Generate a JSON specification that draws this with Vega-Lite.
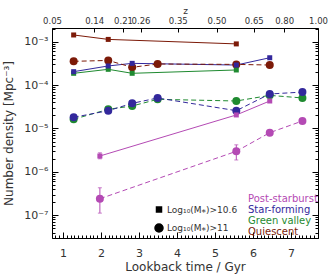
{
  "$schema": "https://vega.github.io/schema/vega-lite/v6.json",
  "width": 266,
  "height": 210,
  "autosize": {"type": "none"},
  "padding": {"left": 52, "top": 28, "right": 13, "bottom": 37},
  "data": {
    "values": [
      {"t": 1.28, "n": 1.43e-3, "cls": "Quiescent", "mass": "Log₁₀(M⁎)>10.6"},
      {"t": 2.19, "n": 1.13e-3, "cls": "Quiescent", "mass": "Log₁₀(M⁎)>10.6"},
      {"t": 5.56, "n": 8.9e-4, "cls": "Quiescent", "mass": "Log₁₀(M⁎)>10.6"},
      {"t": 1.28, "n": 3.53e-4, "cls": "Quiescent", "mass": "Log₁₀(M⁎)>11"},
      {"t": 2.19, "n": 3.7e-4, "cls": "Quiescent", "mass": "Log₁₀(M⁎)>11"},
      {"t": 2.82, "n": 2.57e-4, "cls": "Quiescent", "mass": "Log₁₀(M⁎)>11"},
      {"t": 3.49, "n": 3.06e-4, "cls": "Quiescent", "mass": "Log₁₀(M⁎)>11"},
      {"t": 5.56, "n": 3.0e-4, "cls": "Quiescent", "mass": "Log₁₀(M⁎)>11"},
      {"t": 6.44, "n": 2.9e-4, "cls": "Quiescent", "mass": "Log₁₀(M⁎)>11"},
      {"t": 1.28, "n": 1.87e-4, "cls": "Green valley", "mass": "Log₁₀(M⁎)>10.6"},
      {"t": 2.19, "n": 2.31e-4, "cls": "Green valley", "mass": "Log₁₀(M⁎)>10.6"},
      {"t": 2.82, "n": 1.87e-4, "cls": "Green valley", "mass": "Log₁₀(M⁎)>10.6"},
      {"t": 5.56, "n": 2.23e-4, "cls": "Green valley", "mass": "Log₁₀(M⁎)>10.6"},
      {"t": 1.28, "n": 1.63e-5, "cls": "Green valley", "mass": "Log₁₀(M⁎)>11"},
      {"t": 2.19, "n": 2.77e-5, "cls": "Green valley", "mass": "Log₁₀(M⁎)>11"},
      {"t": 2.82, "n": 3.3e-5, "cls": "Green valley", "mass": "Log₁₀(M⁎)>11"},
      {"t": 3.49, "n": 4.7e-5, "cls": "Green valley", "mass": "Log₁₀(M⁎)>11"},
      {"t": 5.56, "n": 4.3e-5, "cls": "Green valley", "mass": "Log₁₀(M⁎)>11"},
      {"t": 6.44, "n": 5.8e-5, "cls": "Green valley", "mass": "Log₁₀(M⁎)>11"},
      {"t": 7.30, "n": 5.05e-5, "cls": "Green valley", "mass": "Log₁₀(M⁎)>11"},
      {"t": 1.28, "n": 2.04e-4, "cls": "Star-forming", "mass": "Log₁₀(M⁎)>10.6"},
      {"t": 2.19, "n": 2.76e-4, "cls": "Star-forming", "mass": "Log₁₀(M⁎)>10.6"},
      {"t": 2.82, "n": 3.17e-4, "cls": "Star-forming", "mass": "Log₁₀(M⁎)>10.6"},
      {"t": 5.56, "n": 2.9e-4, "cls": "Star-forming", "mass": "Log₁₀(M⁎)>10.6"},
      {"t": 6.44, "n": 4.27e-4, "cls": "Star-forming", "mass": "Log₁₀(M⁎)>10.6"},
      {"t": 1.28, "n": 1.81e-5, "cls": "Star-forming", "mass": "Log₁₀(M⁎)>11"},
      {"t": 2.19, "n": 2.57e-5, "cls": "Star-forming", "mass": "Log₁₀(M⁎)>11"},
      {"t": 2.82, "n": 3.8e-5, "cls": "Star-forming", "mass": "Log₁₀(M⁎)>11"},
      {"t": 3.49, "n": 5.05e-5, "cls": "Star-forming", "mass": "Log₁₀(M⁎)>11"},
      {"t": 5.56, "n": 2.57e-5, "cls": "Star-forming", "mass": "Log₁₀(M⁎)>11"},
      {"t": 6.44, "n": 6.24e-5, "cls": "Star-forming", "mass": "Log₁₀(M⁎)>11"},
      {"t": 7.30, "n": 6.9e-5, "cls": "Star-forming", "mass": "Log₁₀(M⁎)>11"},
      {"t": 1.97, "n": 2.32e-6, "lo": 2.0e-6, "hi": 2.75e-6, "cls": "Post-starburst", "mass": "Log₁₀(M⁎)>10.6"},
      {"t": 5.56, "n": 2.05e-5, "cls": "Post-starburst", "mass": "Log₁₀(M⁎)>10.6"},
      {"t": 6.44, "n": 4.3e-5, "cls": "Post-starburst", "mass": "Log₁₀(M⁎)>10.6"},
      {"t": 1.97, "n": 2.4e-7, "lo": 1.12e-7, "hi": 4.3e-7, "cls": "Post-starburst", "mass": "Log₁₀(M⁎)>11"},
      {"t": 5.56, "n": 2.98e-6, "lo": 1.88e-6, "hi": 4.2e-6, "cls": "Post-starburst", "mass": "Log₁₀(M⁎)>11"},
      {"t": 6.44, "n": 8.0e-6, "lo": 7.0e-6, "hi": 9.1e-6, "cls": "Post-starburst", "mass": "Log₁₀(M⁎)>11"},
      {"t": 7.30, "n": 1.49e-5, "lo": 1.33e-5, "hi": 1.66e-5, "cls": "Post-starburst", "mass": "Log₁₀(M⁎)>11"}
    ]
  },
  "resolve": {"axis": {"x": "independent", "y": "independent"}},
  "layer": [
    {
      "transform": [{"filter": "datum.mass == 'Log₁₀(M⁎)>10.6'"}],
      "mark": {"type": "line", "strokeWidth": 1},
      "encoding": {
        "x": {"field": "t", "type": "quantitative",
              "scale": {"domain": [0.71, 7.71], "nice": false, "zero": false},
              "axis": {"orient": "bottom", "values": [1, 2, 3, 4, 5, 6, 7], "format": "d",
                       "title": "Lookback time / Gyr", "tickSize": -6, "labelPadding": 15,
                       "labelFontSize": 11, "titleFontSize": 12, "titlePadding": 3,
                       "labelFlush": false, "labelOverlap": false}},
        "y": {"field": "n", "type": "quantitative",
              "scale": {"type": "log", "domain": [2.99e-8, 2.07e-3], "nice": false, "zero": false},
              "axis": {"orient": "left", "values": [1e-7, 1e-6, 1e-5, 1e-4, 1e-3],
                       "labelExpr": "'10⁻' + ['','¹','²','³','⁴','⁵','⁶','⁷','⁸'][round(-log(datum.value)/LN10)]",
                       "title": "Number density [Mpc⁻³]", "tickSize": -6, "labelPadding": 10,
                       "labelFontSize": 11, "titleFontSize": 12, "titlePadding": 8}},
        "color": {"field": "cls", "type": "nominal",
                  "scale": {"domain": ["Post-starburst", "Star-forming", "Green valley", "Quiescent"],
                            "range": ["#b44ab4", "#33289c", "#1f8a30", "#7c1a08"]},
                  "legend": {"orient": "none", "legendX": 186, "legendY": 166, "title": null,
                             "padding": 0, "symbolSize": 0, "symbolStrokeWidth": 0, "symbolOpacity": 0,
                             "labelOffset": 0, "labelFontSize": 10, "rowPadding": 1,
                             "encode": {"labels": {"update": {"fill": {"scale": "color", "field": "value"}}}}}},
        "detail": {"field": "cls"}
      }
    },
    {
      "transform": [{"filter": "datum.mass == 'Log₁₀(M⁎)>11'"}],
      "mark": {"type": "line", "strokeWidth": 1, "strokeDash": [5, 3]},
      "encoding": {
        "x": {"field": "t", "type": "quantitative",
              "axis": {"orient": "bottom", "values": [0.8, 0.9, 1.1, 1.2, 1.3, 1.4, 1.5, 1.6, 1.7, 1.8, 1.9, 2.1, 2.2, 2.3, 2.4, 2.5, 2.6, 2.7, 2.8, 2.9, 3.1, 3.2, 3.3, 3.4, 3.5, 3.6, 3.7, 3.8, 3.9, 4.1, 4.2, 4.3, 4.4, 4.5, 4.6, 4.7, 4.8, 4.9, 5.1, 5.2, 5.3, 5.4, 5.5, 5.6, 5.7, 5.8, 5.9, 6.1, 6.2, 6.3, 6.4, 6.5, 6.6, 6.7, 6.8, 6.9, 7.1, 7.2, 7.3, 7.4, 7.5, 7.6, 7.7],
                       "labels": false, "title": null, "tickSize": -3}},
        "y": {"field": "n", "type": "quantitative",
              "axis": {"orient": "left", "values": [3e-8, 4e-8, 5e-8, 6e-8, 7e-8, 8e-8, 9e-8, 2e-7, 3e-7, 4e-7, 5e-7, 6e-7, 7e-7, 8e-7, 9e-7, 2e-6, 3e-6, 4e-6, 5e-6, 6e-6, 7e-6, 8e-6, 9e-6, 2e-5, 3e-5, 4e-5, 5e-5, 6e-5, 7e-5, 8e-5, 9e-5, 2e-4, 3e-4, 4e-4, 5e-4, 6e-4, 7e-4, 8e-4, 9e-4, 2e-3],
                       "labels": false, "title": null, "tickSize": -3}},
        "color": {"field": "cls", "type": "nominal"},
        "detail": {"field": "cls"}
      }
    },
    {
      "mark": {"type": "errorbar", "ticks": {"size": 4, "strokeWidth": 1}, "rule": {"strokeWidth": 1}},
      "transform": [{"filter": "isValid(datum.lo)"}],
      "encoding": {
        "x": {"field": "t", "type": "quantitative", "axis": null},
        "y": {"field": "lo", "type": "quantitative", "axis": {"orient": "right", "values": [3e-8, 4e-8, 5e-8, 6e-8, 7e-8, 8e-8, 9e-8, 2e-7, 3e-7, 4e-7, 5e-7, 6e-7, 7e-7, 8e-7, 9e-7, 2e-6, 3e-6, 4e-6, 5e-6, 6e-6, 7e-6, 8e-6, 9e-6, 2e-5, 3e-5, 4e-5, 5e-5, 6e-5, 7e-5, 8e-5, 9e-5, 2e-4, 3e-4, 4e-4, 5e-4, 6e-4, 7e-4, 8e-4, 9e-4, 2e-3],
                       "labels": false, "title": null, "tickSize": -3}},
        "y2": {"field": "hi"},
        "color": {"field": "cls", "type": "nominal"}
      }
    },
    {
      "mark": {"type": "point", "filled": true, "opacity": 1},
      "encoding": {
        "x": {"field": "t", "type": "quantitative",
              "axis": {"orient": "top", "values": [0.71, 1.82, 2.58, 3.04, 4.02, 5.04, 6.02, 6.82, 7.71],
                       "labelExpr": "datum.value < 1 ? '0.05' : datum.value < 2 ? '0.14' : datum.value < 2.8 ? '0.21' : datum.value < 3.5 ? '0.26' : datum.value < 4.5 ? '0.35' : datum.value < 5.5 ? '0.50' : datum.value < 6.5 ? '0.65' : datum.value < 7.3 ? '0.80' : '1.00'",
                       "title": "z", "titleFontSize": 9, "titlePadding": 1, "tickSize": -4, "labelPadding": 7,
                       "labelFontSize": 8.5, "labelFlush": false, "labelOverlap": false}},
        "y": {"field": "n", "type": "quantitative",
              "axis": {"orient": "right", "values": [1e-7, 1e-6, 1e-5, 1e-4, 1e-3],
                       "labels": false, "title": null, "tickSize": -6}},
        "color": {"field": "cls", "type": "nominal"},
        "shape": {"field": "mass", "type": "nominal",
                  "scale": {"domain": ["Log₁₀(M⁎)>10.6", "Log₁₀(M⁎)>11"], "range": ["square", "circle"]},
                  "legend": {"orient": "none", "legendX": 102, "legendY": 177, "title": null, "padding": 0,
                             "symbolFillColor": "black", "symbolStrokeColor": "black",
                             "labelOffset": 3, "labelFontSize": 9, "rowPadding": 6, "labelColor": "#333"}},
        "size": {"field": "mass", "type": "nominal",
                 "scale": {"domain": ["Log₁₀(M⁎)>10.6", "Log₁₀(M⁎)>11"], "range": [25, 64]},
                 "legend": {"orient": "none", "legendX": 102, "legendY": 177, "title": null, "padding": 0,
                            "symbolFillColor": "black", "symbolStrokeColor": "black",
                            "labelOffset": 3, "labelFontSize": 9, "rowPadding": 6, "labelColor": "#333"}}
      }
    }
  ],
  "config": {
    "font": "DejaVu Sans",
    "view": {"stroke": "black", "strokeWidth": 1},
    "axis": {"domain": false, "grid": false, "tickColor": "black", "labelColor": "#333", "titleColor": "#333",
             "titleFontWeight": "normal", "labelFont": "DejaVu Sans", "titleFont": "DejaVu Sans"},
    "legend": {"labelFont": "DejaVu Sans"}
  }
}
